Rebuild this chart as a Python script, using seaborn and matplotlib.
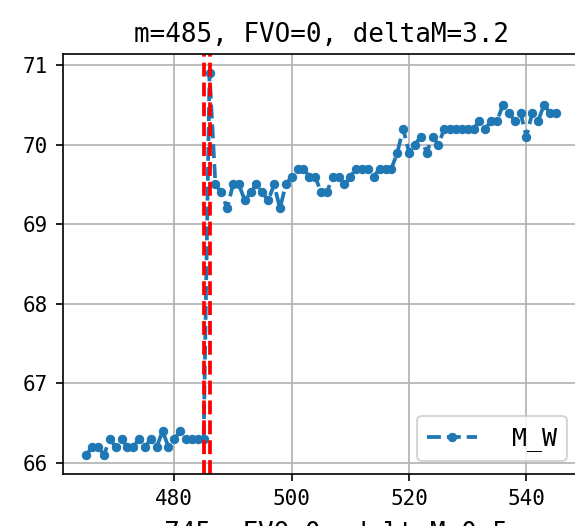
import numpy as np
import pandas as pd
import seaborn as sns
import matplotlib
matplotlib.use('Agg')
import matplotlib.pyplot as plt

plt.rcParams['font.family'] = ['DejaVu Sans Mono', 'DejaVu Sans']
plt.rcParams['axes.unicode_minus'] = False

# M_W values, one per m starting at m_start
m_start = 465
mw = [66.1, 66.2, 66.2, 66.1, 66.3, 66.2, 66.3, 66.2, 66.2, 66.3,
      66.2, 66.3, 66.2, 66.4, 66.2, 66.3, 66.4, 66.3, 66.3, 66.3,
      66.3, 70.9, 69.5, 69.4, 69.2, 69.5, 69.5, 69.3, 69.4, 69.5,
      69.4, 69.3, 69.5, 69.2, 69.5, 69.6, 69.7, 69.7, 69.6, 69.6,
      69.4, 69.4, 69.6, 69.6, 69.5, 69.6, 69.7, 69.7, 69.7, 69.6,
      69.7, 69.7, 69.7, 69.9, 70.2, 69.9, 70.0, 70.1, 69.9, 70.1,
      70.0, 70.2, 70.2, 70.2, 70.2, 70.2, 70.2, 70.3, 70.2, 70.3,
      70.3, 70.5, 70.4, 70.3, 70.4, 70.1, 70.4, 70.3, 70.5, 70.4,
      70.4]
change_points = [485, 486]

title = 'm=485, FVO=0, deltaM=3.2'
next_title = 'm=745, FVO=0, deltaM=0.5'

df = pd.DataFrame({'m': np.arange(m_start, m_start + len(mw)), 'M_W': mw})

fig = plt.figure(figsize=(575 / 150, 526 / 150), dpi=150)
ax = fig.add_axes([0.1093, 0.0989, 0.898, 0.7984])

sns.lineplot(data=df, x='m', y='M_W', ax=ax, linestyle='--', marker='.',
             linewidth=1.8, markersize=8,
             color='#1f77b4', markeredgecolor='#1f77b4', markeredgewidth=0.5,
             label='M_W')
for cp in change_points:
    ax.axvline(cp, color='red', linestyle='--', linewidth=1.8)

ax.set_xlim(461, 549)
ax.grid(True)
ax.set_xlabel('')
ax.set_ylabel('')
ax.set_title(title, fontsize=12.5)
ax.legend(loc='lower right', fontsize=12, handletextpad=1.4)

# title of the subplot below, cut off by the crop
fig.text(0.558, -0.028, next_title, ha='center', va='baseline', fontsize=12.5)

fig.savefig('out.png', dpi=150)
